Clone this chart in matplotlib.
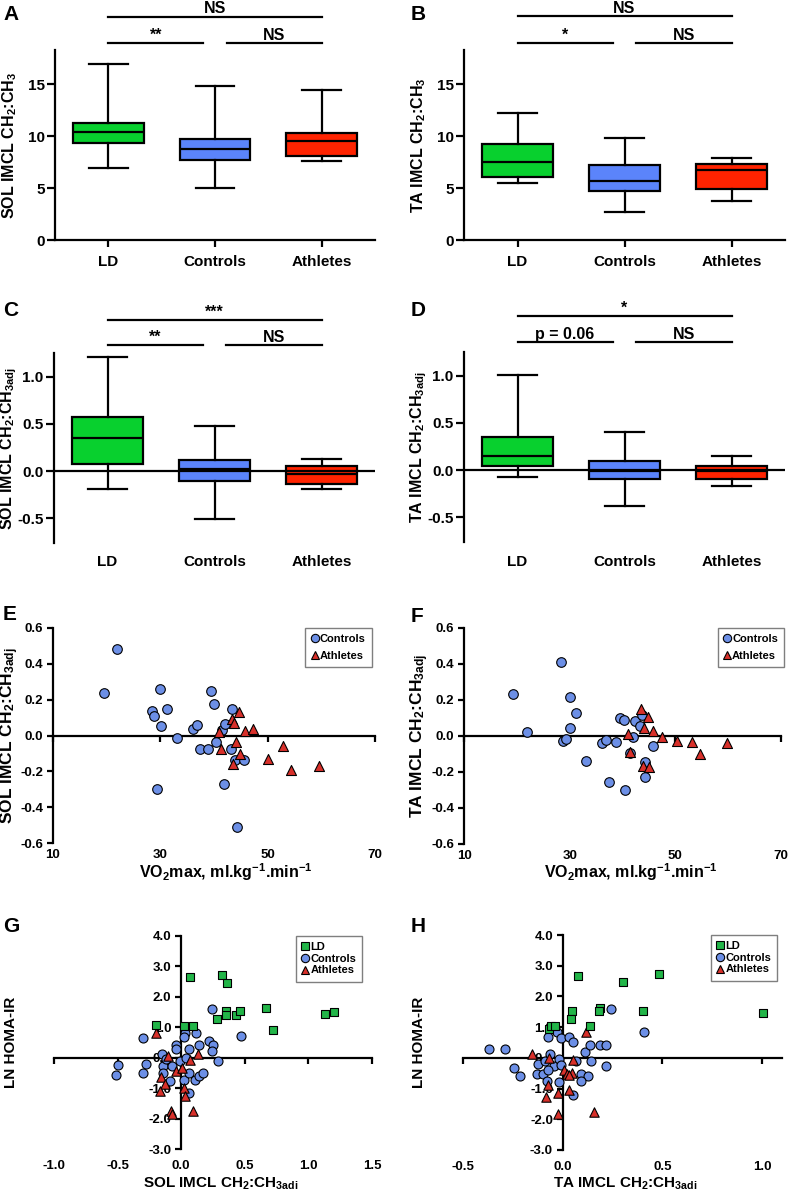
"""
IMCL box plots (A-D) and scatter panels (E-H), redrawn from the figure.
"""

import matplotlib
matplotlib.use('Agg')
import matplotlib.pyplot as plt
from matplotlib.lines import Line2D
from matplotlib.ticker import FormatStrFormatter
from matplotlib.transforms import blended_transform_factory

plt.rcParams['font.family'] = ['Liberation Sans', 'DejaVu Sans']
plt.rcParams['font.weight'] = 'bold'
plt.rcParams['axes.labelweight'] = 'bold'
plt.rcParams['axes.unicode_minus'] = False
plt.rcParams['mathtext.fontset'] = 'custom'
plt.rcParams['mathtext.rm'] = 'Liberation Sans:bold'
plt.rcParams['mathtext.it'] = 'Liberation Sans:bold'
plt.rcParams['mathtext.bf'] = 'Liberation Sans:bold'
plt.rcParams['mathtext.default'] = 'bf'

# ---------------------------------------------------------------- data
groups = ['LD', 'Controls', 'Athletes']

# A: SOL IMCL CH2:CH3
a_low = [6.9, 5.0, 7.6]
a_q1 = [9.3, 7.7, 8.1]
a_med = [10.4, 8.8, 9.5]
a_q3 = [11.25, 9.7, 10.3]
a_high = [16.95, 14.8, 14.45]
a_sig = ['**', 'NS', 'NS']

# B: TA IMCL CH2:CH3
b_low = [5.5, 2.7, 3.8]
b_q1 = [6.1, 4.7, 4.9]
b_med = [7.5, 5.65, 6.75]
b_q3 = [9.25, 7.25, 7.3]
b_high = [12.2, 9.85, 7.85]
b_sig = ['*', 'NS', 'NS']

# C: SOL IMCL CH2:CH3adj
c_low = [-0.19, -0.51, -0.19]
c_q1 = [0.08, -0.10, -0.14]
c_med = [0.35, 0.025, -0.03]
c_q3 = [0.57, 0.12, 0.055]
c_high = [1.21, 0.48, 0.13]
c_sig = ['**', 'NS', '***']

# D: TA IMCL CH2:CH3adj
d_low = [-0.07, -0.38, -0.17]
d_q1 = [0.04, -0.09, -0.09]
d_med = [0.15, -0.01, -0.01]
d_q3 = [0.35, 0.10, 0.04]
d_high = [1.01, 0.40, 0.15]
d_sig = ['p = 0.06', 'NS', '*']

# E: VO2max vs SOL IMCL CH2:CH3adj
e_ctrl_vo2 = [19.5, 22.0, 28.4, 28.9, 30.0, 30.2, 31.2, 29.4, 33.1, 36.0, 36.9, 37.4,
              38.8, 39.4, 40.0, 40.4, 41.4, 42.0, 41.8, 43.4, 43.1, 43.9, 45.6, 44.2]
e_ctrl_sol = [0.24, 0.485, 0.135, 0.11, 0.26, 0.055, 0.15, -0.30, -0.013, 0.034, 0.058, -0.073,
              -0.078, 0.25, 0.176, -0.037, 0.03, 0.062, -0.273, 0.148, -0.073, -0.138, -0.135, -0.508]
e_ath_vo2 = [40.9, 41.3, 43.4, 43.8, 44.6, 44.1, 44.8, 43.6, 45.7, 47.3, 50.0, 52.9, 54.4, 59.5]
e_ath_sol = [0.021, -0.078, 0.090, 0.067, 0.133, -0.039, -0.105, -0.157, 0.026, 0.037,
             -0.133, -0.058, -0.194, -0.168]

# F: VO2max vs TA IMCL CH2:CH3adj
f_ctrl_vo2 = [19.3, 22.0, 28.3, 28.7, 29.4, 30.0, 30.0, 31.2, 33.1, 36.1, 36.9, 37.5,
              38.8, 39.5, 40.2, 40.4, 41.9, 42.3, 43.3, 43.6, 44.2, 44.3, 41.5, 45.8]
f_ctrl_ta = [0.234, 0.024, 0.409, -0.026, -0.015, 0.217, 0.045, 0.130, -0.138, -0.039, -0.020, -0.257,
             -0.035, 0.102, 0.089, -0.301, -0.007, 0.085, 0.054, 0.119, -0.143, -0.229, -0.093, -0.054]
f_ath_vo2 = [41.1, 41.5, 43.5, 44.8, 44.0, 45.8, 43.9, 45.1, 47.5, 50.3, 53.2, 54.6, 59.8]
f_ath_ta = [0.011, -0.087, 0.149, 0.108, 0.043, 0.026, -0.165, -0.171, -0.004, -0.026,
            -0.033, -0.099, -0.039]

# G: SOL IMCL CH2:CH3adj vs LN HOMA-IR
g_ld_sol = [-0.20, 0.02, 0.09, 0.07, 0.32, 0.36, 0.35, 0.35, 0.28, 0.43, 0.46, 0.67, 0.72, 1.13, 1.20]
g_ld_homa = [1.08, 1.03, 1.03, 2.65, 2.72, 2.46, 1.54, 1.41, 1.27, 1.39, 1.52, 1.63, 0.91, 1.44, 1.51]
g_ctrl_sol = [-0.50, -0.51, -0.30, -0.28, -0.30, -0.15, -0.14, -0.14, -0.09, -0.07, -0.04, -0.04,
              -0.01, 0.03, 0.02, 0.06, 0.02, 0.06, 0.11, 0.14, 0.17, 0.14, 0.12, 0.22,
              0.25, 0.24, 0.29, 0.06, 0.24, 0.47, 0.04, -0.12]
g_ctrl_homa = [-0.25, -0.57, 0.65, -0.20, -0.51, 0.13, -0.26, -0.50, -0.75, -0.28, 0.43, 0.28,
               -0.10, 0.80, 0.67, 0.28, -0.74, -0.50, -0.74, -0.61, -0.50, 0.43, 0.82, 0.54,
               0.43, 0.21, -0.12, -1.16, 1.60, 0.70, 0.00, -0.05]
g_ath_sol = [-0.20, -0.10, -0.16, -0.13, -0.17, -0.04, -0.08, -0.07, 0.01, 0.07, 0.13, 0.02, 0.03, 0.09]
g_ath_homa = [0.82, 0.05, -0.64, -0.88, -1.08, -0.45, -1.76, -1.84, -0.34, -0.07, 0.13, -1.00, -1.27, -1.74]

# H: TA IMCL CH2:CH3adj vs LN HOMA-IR
h_ld_ta = [-0.07, -0.058, -0.038, 0.078, 0.048, 0.041, 0.137, 0.185, 0.182, 0.305, 0.401, 0.485, 1.005]
h_ld_homa = [0.93, 1.03, 1.03, 2.66, 1.52, 1.27, 1.03, 1.63, 1.52, 2.46, 1.52, 2.74, 1.45]
h_ctrl_ta = [-0.369, -0.290, -0.242, -0.212, -0.129, -0.101, -0.126, -0.088, -0.075, -0.030, -0.008,
             0.033, 0.053, -0.066, -0.046, -0.018, -0.008, -0.076, -0.079, -0.017, 0.053, 0.066,
             0.111, 0.136, 0.141, 0.189, 0.219, 0.215, 0.094, 0.127, 0.091, 0.240, 0.409]
h_ctrl_homa = [0.29, 0.29, -0.33, -0.58, -0.52, -0.52, -0.20, -0.11, 0.67, 0.84, 0.65,
               0.68, 0.51, 0.11, -0.27, -0.05, -0.22, -0.38, -0.76, -0.79, -1.20, -0.11,
               0.18, 0.43, -0.09, 0.43, 0.43, -0.27, -0.54, -0.60, -0.76, 1.60, 0.84]
h_ath_ta = [-0.154, -0.075, -0.084, -0.025, -0.025, 0.031, 0.008, 0.020, 0.045, 0.050, 0.116, 0.157,
            -0.07, 0.03]
h_ath_homa = [0.11, -0.87, -1.27, -1.14, -1.82, -1.05, -0.38, -0.54, -0.49, -0.08, 0.84, -1.77,
              -0.02, -0.55]

BOX_COLORS = ['#08D02E', '#5B84FB', '#FF2300']
LD_COLOR = '#22B548'
CTRL_COLOR = '#6C8FE6'
ATH_COLOR = '#D8302A'

W, H = 792, 1194
fig = plt.figure(figsize=(W / 100, H / 100), dpi=100)


def px_axes(left, top, right, bottom):
    """Axes placed by pixel box (y measured from the top of the figure)."""
    return fig.add_axes([left / W, 1 - bottom / H, (right - left) / W, (bottom - top) / H])


def panel_letter(x, y, letter):
    fig.text(x / W, 1 - y / H, letter, fontsize=15, fontweight='bold', ha='left', va='center')


def ylabel_at(ax, text, x_px, size):
    # keep the label centre at a fixed pixel column
    pos = ax.get_position()
    ax.set_ylabel(text, fontsize=size, va='center')
    ax.yaxis.set_label_coords((x_px / W - pos.x0) / pos.width, 0.5)


def xlabel_at(ax, text, x_frac, baseline_px, size):
    # baseline of the label at a fixed pixel row
    pos = ax.get_position()
    ax.set_xlabel(text, fontsize=size, va='baseline')
    ax.xaxis.set_label_coords(x_frac, ((1 - baseline_px / H) - pos.y0) / pos.height)


def box_panel(ax, low, q1, med, q3, high, ylim, yticks, fmt, sig, sig_y, zero_axis):
    stats = [dict(whislo=l, q1=a, med=m, q3=b, whishi=h, label=g)
             for l, a, m, b, h, g in zip(low, q1, med, q3, high, groups)]
    bp = ax.bxp(stats, positions=[0, 1, 2], widths=0.66, capwidths=0.36,
                showfliers=False, patch_artist=True,
                boxprops=dict(linewidth=1.6, edgecolor='black'),
                medianprops=dict(color='black', linewidth=1.6),
                whiskerprops=dict(color='black', linewidth=1.6),
                capprops=dict(color='black', linewidth=1.6))
    for patch, c in zip(bp['boxes'], BOX_COLORS):
        patch.set_facecolor(c)

    ax.set_xlim(-0.5, 2.5)
    ax.set_ylim(*ylim)
    ax.set_yticks(yticks)
    ax.yaxis.set_major_formatter(FormatStrFormatter(fmt))
    ax.spines['top'].set_visible(False)
    ax.spines['right'].set_visible(False)
    ax.spines['left'].set_linewidth(1.6)
    ax.spines['bottom'].set_linewidth(1.6)
    ax.tick_params(axis='y', labelsize=11, width=1.6, length=5.5, pad=2)
    if zero_axis:
        ax.spines['bottom'].set_visible(False)
        ax.axhline(0, color='black', linewidth=1.6, zorder=3)
        ax.tick_params(axis='x', labelsize=11, length=0, pad=9)
    else:
        ax.tick_params(axis='x', labelsize=11, width=1.6, length=5, pad=6)

    # significance bars above the plot
    trans = blended_transform_factory(ax.transData, ax.transAxes)
    lo, hi = sig_y
    bars = [((0, 0.89), lo), ((1.11, 2.0), lo), ((0, 2.0), hi)]
    for (xs, y), label in zip(bars, sig):
        ax.plot(xs, [y, y], color='black', linewidth=1.6, transform=trans, clip_on=False)
        ax.text(sum(xs) / 2, y + 0.018, label, transform=trans, ha='center', va='baseline',
                fontsize=11.5, fontweight='bold')


def scatter_axes(ax, xlim, ylim, xticks, yticks, xfmt, yfmt, ycross, label_pad):
    ax.set_xlim(*xlim)
    ax.set_ylim(*ylim)
    ax.set_xticks(xticks)
    ax.set_yticks(yticks)
    ax.yaxis.set_major_formatter(FormatStrFormatter(yfmt))
    ax.spines['top'].set_visible(False)
    ax.spines['right'].set_visible(False)
    for s in ('left', 'bottom'):
        ax.spines[s].set_linewidth(1.6)
    ax.spines['bottom'].set_position(('data', 0))
    if ycross is not None:
        ax.spines['left'].set_position(('data', ycross))
    ax.tick_params(axis='x', width=1.6, length=4.5, labelbottom=False)
    ax.tick_params(axis='y', width=1.6, length=4, labelsize=9.5, pad=3)

    # tick labels sit at the bottom edge, away from the zero axis
    sec = ax.secondary_xaxis('bottom')
    sec.set_xticks(xticks)
    sec.xaxis.set_major_formatter(FormatStrFormatter(xfmt))
    sec.spines['bottom'].set_visible(False)
    sec.tick_params(length=0, labelsize=9.5, pad=label_pad)


def marker_handle(marker, color, size, label):
    return Line2D([], [], linestyle='none', marker=marker, markersize=size,
                  markerfacecolor=color, markeredgecolor='black', markeredgewidth=0.8, label=label)


def scatter_legend(ax, handles, anchor, spacing):
    leg = ax.legend(handles=handles, loc='upper right', bbox_to_anchor=anchor,
                    fancybox=False, framealpha=1, edgecolor='#7f7f7f', fontsize=8,
                    handlelength=0.6, handletextpad=0.15, labelspacing=spacing,
                    borderpad=0.55, borderaxespad=0)
    leg.get_frame().set_linewidth(1.0)


# ---------------------------------------------------------------- A-D
axA = px_axes(55, 50, 375, 240)
box_panel(axA, a_low, a_q1, a_med, a_q3, a_high, (0, 18.3), [0, 5, 10, 15], '%d',
          a_sig, (1.037, 1.176), False)
ylabel_at(axA, 'SOL IMCL CH$_2$:CH$_3$', 10, 11.5)

axB = px_axes(464, 50, 785, 240)
box_panel(axB, b_low, b_q1, b_med, b_q3, b_high, (0, 18.3), [0, 5, 10, 15], '%d',
          b_sig, (1.037, 1.179), False)
ylabel_at(axB, 'TA IMCL CH$_2$:CH$_3$', 419, 11.5)

axC = px_axes(54, 353, 375, 543)
box_panel(axC, c_low, c_q1, c_med, c_q3, c_high, (-0.76, 1.25), [-0.5, 0.0, 0.5, 1.0], '%.1f',
          c_sig, (1.04, 1.175), True)
ylabel_at(axC, 'SOL IMCL CH$_2$:CH$_{3adj}$', 9, 11.5)

axD = px_axes(464, 352, 785, 542)
box_panel(axD, d_low, d_q1, d_med, d_q3, d_high, (-0.76, 1.25), [-0.5, 0.0, 0.5, 1.0], '%.1f',
          d_sig, (1.051, 1.188), True)
ylabel_at(axD, 'TA IMCL CH$_2$:CH$_{3adj}$', 419, 11.5)

# ---------------------------------------------------------------- E-F
vo2_label = 'VO$_2$max, ml.kg$^{-1}$.min$^{-1}$'
e_f_handles = [marker_handle('o', CTRL_COLOR, 6, 'Controls'),
               marker_handle('^', ATH_COLOR, 6, 'Athletes')]

for box, ctrl, ath, ylab, ylab_x, leg_anchor, xlab_x in [
        ((53, 628, 375, 843), (e_ctrl_vo2, e_ctrl_sol), (e_ath_vo2, e_ath_sol),
         'SOL IMCL CH$_2$:CH$_{3adj}$', 10, (0.99, 1.0), 0.537),
        ((464, 628, 781, 844), (f_ctrl_vo2, f_ctrl_ta), (f_ath_vo2, f_ath_ta),
         'TA IMCL CH$_2$:CH$_{3adj}$', 420, (1.01, 1.0), 0.527)]:
    ax = px_axes(*box)
    ax.scatter(*ctrl, s=48, marker='o', color=CTRL_COLOR, edgecolor='black', linewidth=0.8, zorder=3)
    ax.scatter(*ath, s=52, marker='^', color=ATH_COLOR, edgecolor='black', linewidth=0.8, zorder=3)
    scatter_axes(ax, (10, 70), (-0.6, 0.6), [10, 30, 50, 70],
                 [-0.6, -0.4, -0.2, 0.0, 0.2, 0.4, 0.6], '%d', '%.1f', None, 4.5)
    ylabel_at(ax, ylab, ylab_x, 12.5)
    xlabel_at(ax, vo2_label, xlab_x, 878, 11.5)
    scatter_legend(ax, e_f_handles, leg_anchor, 0.6)

# ---------------------------------------------------------------- G-H
g_h_handles = [marker_handle('s', LD_COLOR, 5.5, 'LD'),
               marker_handle('o', CTRL_COLOR, 6, 'Controls'),
               marker_handle('^', ATH_COLOR, 6, 'Athletes')]

for box, ld, ctrl, ath, xlim, xticks, xlab, ylab_x, xlab_x, leg_anchor in [
        ((54, 936, 372, 1149), (g_ld_sol, g_ld_homa), (g_ctrl_sol, g_ctrl_homa),
         (g_ath_sol, g_ath_homa), (-1.0, 1.5), [-1.0, -0.5, 0.0, 0.5, 1.0, 1.5],
         'SOL IMCL CH$_2$:CH$_{3adi}$', 11, 0.524, (0.97, 1.0)),
        ((463, 935, 782, 1150), (h_ld_ta, h_ld_homa), (h_ctrl_ta, h_ctrl_homa),
         (h_ath_ta, h_ath_homa), (-0.5, 1.1), [-0.5, 0.0, 0.5, 1.0],
         'TA IMCL CH$_2$:CH$_{3adi}$', 419, 0.508, (0.985, 1.0))]:
    ax = px_axes(*box)
    ax.scatter(*ctrl, s=42, marker='o', color=CTRL_COLOR, edgecolor='black', linewidth=0.8, zorder=3)
    ax.scatter(*ath, s=46, marker='^', color=ATH_COLOR, edgecolor='black', linewidth=0.8, zorder=3)
    ax.scatter(*ld, s=30, marker='s', color=LD_COLOR, edgecolor='black', linewidth=0.8, zorder=3)
    scatter_axes(ax, xlim, (-3.0, 4.0), xticks, [-3, -2, -1, 0, 1, 2, 3, 4],
                 '%.1f', '%.1f', 0.0, 8)
    ylabel_at(ax, 'LN HOMA-IR', ylab_x, 11)
    xlabel_at(ax, xlab, xlab_x, 1188, 11)
    scatter_legend(ax, g_h_handles, leg_anchor, 0.15)

for x, y, letter in [(3, 15, 'A'), (411, 15, 'B'), (3, 311, 'C'), (411, 310, 'D'),
                     (3, 614, 'E'), (411, 617, 'F'), (3, 927, 'G'), (411, 926, 'H')]:
    panel_letter(x, y, letter)

fig.savefig('out.png', dpi=100)
